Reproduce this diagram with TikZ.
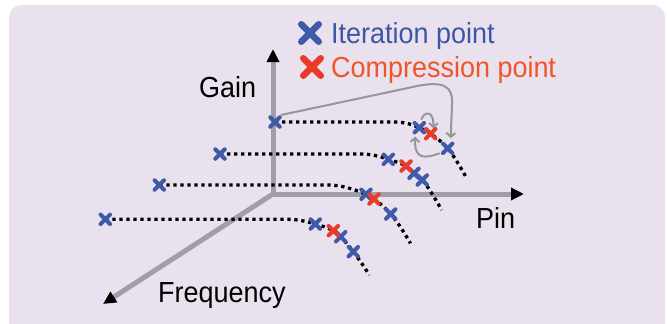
\documentclass[tikz,border=0pt]{standalone}
\usepackage{fontspec}
\setmainfont[FakeStretch=0.93]{Liberation Sans}
\usetikzlibrary{arrows.meta,shapes.misc}

\definecolor{panelbg}{RGB}{233,226,238}
\definecolor{axisgray}{RGB}{160,158,166}
\definecolor{loopgray}{RGB}{150,150,152}
\definecolor{iterblue}{RGB}{62,90,168}
\definecolor{compred}{RGB}{234,58,40}
\definecolor{itertext}{RGB}{60,86,166}
\definecolor{comptext}{RGB}{240,84,40}

\begin{document}
\begin{tikzpicture}[x=1pt,y=-1pt]
			\tikzstyle{axis}=[draw=axisgray,line width=5pt,-{Triangle[length=13pt,width=12pt,color=black]}]
			\tikzstyle{trace}=[black,line width=3.3pt,dash pattern=on 3.3pt off 3.7pt]
			\tikzstyle{xmark}=[cross out,draw,line width=4pt,line cap=round,minimum size=5.5pt,inner sep=0pt]
			\tikzstyle{iter mark}=[xmark,draw=iterblue]
			\tikzstyle{comp mark}=[xmark,draw=compred]
			\tikzstyle{key mark}=[xmark,line width=6.5pt,minimum size=11pt]
			\tikzstyle{feedback}=[draw=loopgray,line width=2pt,-{Straight Barb[length=4pt,width=9pt]}]
			\tikzstyle{annot}=[inner sep=0pt,anchor=base west,font=\fontsize{29}{32}\selectfont]

			\useasboundingbox (0,0) rectangle (667,324);
			\fill[white] (0,0) rectangle (667,324);
			\fill[panelbg,rounded corners=12pt] (9,5) rectangle (665,345);

			% Draw the axes
			\coordinate (O) at (273,194);
			\coordinate (gain-tip) at (273,49);
			\coordinate (pin-tip) at (524,194);
			\coordinate (freq-tip) at (103,304);
			\draw[axis] (O) -- (gain-tip);
			\draw[axis] (O) -- (pin-tip);
			\draw[axis] (O) -- (freq-tip);

			% Axis labels
			\node[annot] (gain) at (199,97) {Gain};
			\node[annot] (pin) at (476,228) {Pin};
			\node[annot] (freq) at (158,302) {Frequency};

			% Points of the gain traces, back to front
			\foreach \name/\x/\y in {1a/275/122,1h/392/122,1b/419.3/127.7,1c/430.7/133.7,1d/447.7/148.3,1e/466.7/178.3,
				2a/220/154,2h/360/154,2b/388.3/159.3,2c/406/166,2d/414/173.3,2f/422.3/180,2e/441.7/210,
				3a/159.3/185,3h/328/185,3b/366/194.3,3c/374/199,3d/390.7/214,3e/410.5/243.3,
				4a/105.3/219.3,4h/288/219.3,4b/315.3/224,4c/333.3/230.7,4d/340.7/236.7,4f/353.3/251.7,4e/369.3/275}
			\coordinate (t\name) at (\x,\y);

			% Draw the gain traces
			\draw[trace] (t1a) -- (t1h) .. controls +(12,0) and +(-9,-4) .. (t1b)
				.. controls +(4.5,2) and +(-4.5,-3) .. (t1c) .. controls +(7,5) and +(-6,-6.5) .. (t1d)
				.. controls +(6,7.2) and +(-5,-9) .. (t1e);
			\draw[trace] (t2a) -- (t2h) .. controls +(12,0) and +(-9,-3) .. (t2b)
				.. controls +(6,2) and +(-5,-3) .. (t2c) .. controls +(3,2.1) and +(-3,-2.5) .. (t2d)
				.. controls +(3,2.5) and +(-3,-3.3) .. (t2f) .. controls +(6,6.6) and +(-6,-10) .. (t2e);
			\draw[trace] (t3a) -- (t3h) .. controls +(14,0) and +(-12,-5) .. (t3b)
				.. controls +(3,1.3) and +(-3,-2.2) .. (t3c) .. controls +(6,4.3) and +(-5.5,-6.3) .. (t3d)
				.. controls +(7,8) and +(-6,-10) .. (t3e);
			\draw[trace] (t4a) -- (t4h) .. controls +(10,0) and +(-9,-2.5) .. (t4b)
				.. controls +(6,1.7) and +(-6,-3.3) .. (t4c) .. controls +(2.5,1.4) and +(-2.5,-2.5) .. (t4d)
				.. controls +(4.2,4.2) and +(-4.2,-5.5) .. (t4f) .. controls +(5.3,6.9) and +(-5.3,-8.5) .. (t4e);

			% Iteration and compression points
			\foreach \name in {1a,1b,1d,2a,2b,2d,2f,3a,3b,3d,4a,4b,4d,4f}
			\node[iter mark] (m\name) at (t\name) {};
			\foreach \name in {1c,2c,3c,4c}
			\node[comp mark] (m\name) at (t\name) {};

			% Iteration steps
			\draw[feedback] ([shift={(6,-7)}]m1a.center) -- (408,88) .. controls (445,79) and (453,86) .. (452,105)
				-- ([shift={(3,-10)}]m1d.center);
			\draw[feedback] ([shift={(2,-8)}]m1b.center) .. controls (424,111) and (434,110) .. ([shift={(2.6,-5.4)}]m1c.center);
			\draw[feedback] ([shift={(-8,5)}]m1d.center) .. controls (426,158) and (414,161) .. ([shift={(-4,9)}]m1b.center);

			% Legend
			\node[key mark,draw=iterblue] (key-iter) at (310,33) {};
			\node[key mark,draw=compred] (key-comp) at (312,67) {};
			\node[annot,text=itertext] (lbl-iter) at (331,43) {Iteration point};
			\node[annot,text=comptext] (lbl-comp) at (331,77) {Compression point};
		\end{tikzpicture}
\end{document}
